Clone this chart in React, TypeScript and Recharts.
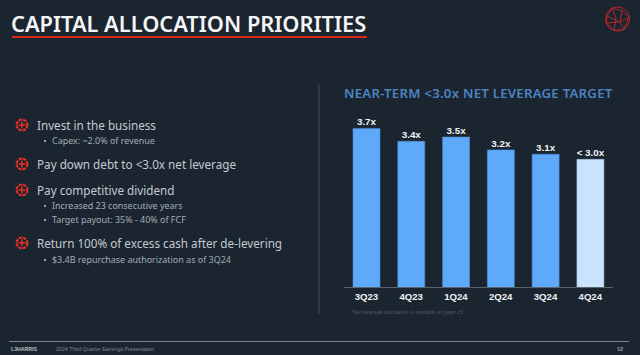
import { BarChart, Bar, Cell, XAxis, YAxis, LabelList } from "recharts";

const QUARTERS = ["3Q23", "4Q23", "1Q24", "2Q24", "3Q24", "4Q24"];
const LEVERAGE = [3.7, 3.4, 3.5, 3.2, 3.1, 2.98];
const BAR_LABELS = ["3.7x", "3.4x", "3.5x", "3.2x", "3.1x", "<\u00a03.0x"];
const BAR_COLORS = ["#5fa9fb", "#5fa9fb", "#5fa9fb", "#5fa9fb", "#5fa9fb", "#c8e3fb"];

const chartData = QUARTERS.map((quarter, i) => ({
  quarter,
  leverage: LEVERAGE[i],
  label: BAR_LABELS[i],
}));

const BG = "#1b2530";
const SANS = '"Noto Sans", "Open Sans", sans-serif';
const ARIAL = '"Liberation Sans", Arial, sans-serif';

const PRIORITIES = [
  { text: "Invest in the business", y: 125 },
  { text: "Pay down debt to <3.0x net leverage", y: 164 },
  { text: "Pay competitive dividend", y: 189.5 },
  { text: "Return 100% of excess cash after de-levering", y: 243 },
];

const DETAILS = [
  { text: "Capex: ~2.0% of revenue", y: 141 },
  { text: "Increased 23 consecutive years", y: 206 },
  { text: "Target payout: 35% - 40% of FCF", y: 220 },
  { text: "$3.4B repurchase authorization as of 3Q24", y: 260 },
];

function Txt({ x, y, size, color, weight = 400, font = SANS, style, children }: any) {
  return (
    <div
      style={{
        position: "absolute",
        left: x,
        top: y - 10,
        height: 20,
        lineHeight: "20px",
        fontSize: size,
        fontFamily: font,
        fontWeight: weight,
        color,
        whiteSpace: "nowrap",
        ...style,
      }}
    >
      {children}
    </div>
  );
}

function BulletIcon({ y }: { y: number }) {
  return (
    <svg width={14} height={14} style={{ position: "absolute", left: 15, top: y - 7 }}>
      <circle cx={7} cy={7} r={5.4} fill="none" stroke="#ee3124" strokeWidth={2} strokeDasharray="3.4 0.9" />
      <path d="M3.5 7H10.5M7 3.5V10.5" stroke="#ee3124" strokeWidth={1.5} />
    </svg>
  );
}

function Logo() {
  return (
    <svg width={27} height={28} viewBox="0 0 27 28" style={{ position: "absolute", left: 604, top: 5 }}>
      <g fill="none" stroke="#b5262a" strokeWidth={1}>
        <circle cx={13.5} cy={14} r={12} />
        <path d="M8 3.5L18 5.5L25 12L16 17L3 11L8 3.5M18 5.5L16 17L20 24.5L10 25.5L2.5 18L16 17M3 11L2.5 18M10 25.5L12 13M8 3.5L12 13M25 12L20 24.5" />
      </g>
    </svg>
  );
}

export default function App() {
  return (
    <div
      style={{
        position: "absolute",
        left: 0,
        top: 0,
        width: 640,
        height: 355,
        background: BG,
        overflow: "hidden",
      }}
    >
      <Txt x={11} y={24} size={21.8} weight={600} color="#f4f5f6">
        CAPITAL ALLOCATION PRIORITIES
      </Txt>
      <div style={{ position: "absolute", left: 12, top: 35.7, width: 354.5, height: 2.7, background: "#d9291c" }} />
      <Logo />

      {PRIORITIES.map((p) => (
        <div key={p.text}>
          <BulletIcon y={p.y} />
          <Txt x={37} y={p.y} size={11.7} color="#c3cad1">
            {p.text}
          </Txt>
        </div>
      ))}
      {DETAILS.map((d) => (
        <div key={d.text}>
          <div
            style={{
              position: "absolute",
              left: 43.5,
              top: d.y - 1,
              width: 2,
              height: 2,
              borderRadius: 1,
              background: "#c3cad1",
            }}
          />
          <Txt x={52} y={d.y} size={8.95} color="#a3acb5">
            {d.text}
          </Txt>
        </div>
      ))}

      <div style={{ position: "absolute", left: 318, top: 84, width: 1.5, height: 230, background: "#2d3843" }} />

      <Txt x={344} y={93} size={13.2} weight={600} color="#4c84c2" style={{ letterSpacing: 0.25 }}>
        NEAR-TERM &lt;3.0x NET LEVERAGE TARGET
      </Txt>

      <div style={{ position: "absolute", left: 0, top: 0 }}>
        <BarChart
          width={640}
          height={355}
          data={chartData}
          margin={{ top: 115.5, right: 27.3, bottom: 47.5, left: 344 }}
        >
          <YAxis hide domain={[0, 4]} />
          <XAxis
            dataKey="quarter"
            interval={0}
            height={20}
            axisLine={{ stroke: "#5a646e", strokeWidth: 1 }}
            tickLine={false}
            tickMargin={0}
            tick={{ fill: "#eef0f2", fontSize: 9.6, fontWeight: 700, fontFamily: ARIAL }}
          />
          <Bar dataKey="leverage" barSize={27} strokeWidth={0.6} isAnimationActive={false}>
            {chartData.map((d, i) => (
              <Cell key={d.quarter} fill={BAR_COLORS[i]} stroke={i === 5 ? "#9fbcd6" : "#4a8ad4"} />
            ))}
            <LabelList
              dataKey="label"
              position="top"
              offset={3}
              fill="#f1f3f5"
              fontSize={9.8}
              fontWeight={700}
              fontFamily={ARIAL}
            />
          </Bar>
        </BarChart>
      </div>

      <Txt x={351} y={312} size={5.2} color="#4e5a65" font={ARIAL} style={{ fontStyle: "italic" }}>
        *Net leverage calculation is available on page 15
      </Txt>

      <div style={{ position: "absolute", left: 9, top: 341, width: 620, height: 1, background: "#7b838a" }} />
      <Txt x={11} y={349} size={5.2} weight={700} color="#b9c0c6" font={ARIAL}>
        L3HARRIS
      </Txt>
      <Txt x={56} y={349} size={5.3} color="#7f8892" font={ARIAL}>
        2024 Third Quarter Earnings Presentation
      </Txt>
      <Txt x={617} y={349} size={5.6} weight={700} color="#9aa2a9" font={ARIAL}>
        12
      </Txt>
    </div>
  );
}
